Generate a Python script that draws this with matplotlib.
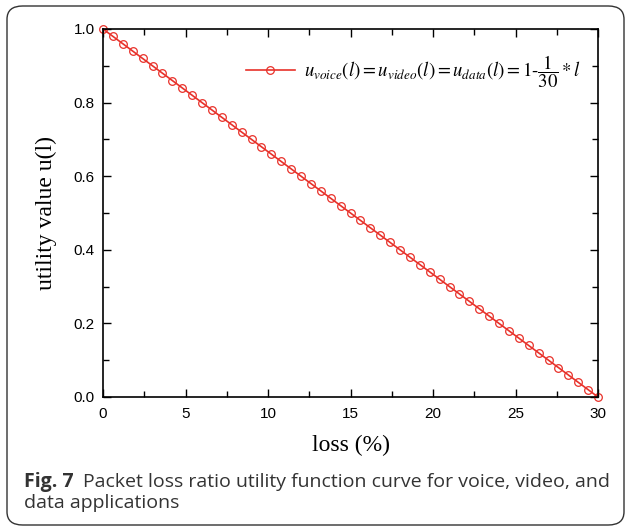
import matplotlib.pyplot as plt
from matplotlib.patches import FancyBboxPatch
from matplotlib.ticker import MultipleLocator

plt.rcParams['mathtext.fontset'] = 'stix'

# packet loss (%) sampled every 0.6
loss = [0.0, 0.6, 1.2, 1.8, 2.4, 3.0, 3.6, 4.2, 4.8, 5.4,
        6.0, 6.6, 7.2, 7.8, 8.4, 9.0, 9.6, 10.2, 10.8, 11.4,
        12.0, 12.6, 13.2, 13.8, 14.4, 15.0, 15.6, 16.2, 16.8, 17.4,
        18.0, 18.6, 19.2, 19.8, 20.4, 21.0, 21.6, 22.2, 22.8, 23.4,
        24.0, 24.6, 25.2, 25.8, 26.4, 27.0, 27.6, 28.2, 28.8, 29.4, 30.0]
utility = [1.00, 0.98, 0.96, 0.94, 0.92, 0.90, 0.88, 0.86, 0.84, 0.82,
           0.80, 0.78, 0.76, 0.74, 0.72, 0.70, 0.68, 0.66, 0.64, 0.62,
           0.60, 0.58, 0.56, 0.54, 0.52, 0.50, 0.48, 0.46, 0.44, 0.42,
           0.40, 0.38, 0.36, 0.34, 0.32, 0.30, 0.28, 0.26, 0.24, 0.22,
           0.20, 0.18, 0.16, 0.14, 0.12, 0.10, 0.08, 0.06, 0.04, 0.02, 0.00]

label = r'$u_{voice}(l)=u_{video}(l)=u_{data}(l)=1\text{-}\dfrac{1}{30}*l$'

W, H = 627, 529
fig = plt.figure(figsize=(W / 100, H / 100), dpi=100)

# rounded frame around the whole figure
frame = FancyBboxPatch((7 / W, 4 / H), 617 / W, 519 / H,
                       boxstyle="round,pad=0,rounding_size=0.025",
                       transform=fig.transFigure, fill=False,
                       edgecolor="#333333", linewidth=1.0)
fig.patches.append(frame)

ax = fig.add_axes([103 / W, 1 - 397 / H, 495 / W, 368 / H])
ax.plot(loss, utility, color="#e8312a", linewidth=1.2, marker="o",
        markersize=5.5, markerfacecolor="none", markeredgecolor="#e8312a",
        markeredgewidth=0.9, label=label, clip_on=False)

ax.set_xlim(0, 30)
ax.set_ylim(0, 1.0)
ax.xaxis.set_major_locator(MultipleLocator(5))
ax.xaxis.set_minor_locator(MultipleLocator(2.5))
ax.yaxis.set_major_locator(MultipleLocator(0.2))
ax.yaxis.set_minor_locator(MultipleLocator(0.1))
ax.yaxis.set_major_formatter(plt.FuncFormatter(lambda v, p: f"{v:.1f}"))
ax.tick_params(which="both", direction="in", top=True, right=True,
               labelsize=11, width=1)
ax.tick_params(which="major", length=6)
ax.tick_params(which="minor", length=4)
ax.tick_params(axis="x", pad=7)
ax.tick_params(axis="y", pad=6)
for t in ax.get_xticklabels() + ax.get_yticklabels():
    t.set_family("Liberation Sans")
for s in ax.spines.values():
    s.set_linewidth(1.2)

ax.set_xlabel("loss (%)", family="Liberation Serif", fontsize=17, labelpad=10)
ax.set_ylabel("utility value u(l)", family="Liberation Serif", fontsize=17, labelpad=12)

ax.legend(loc="center right", frameon=False, fontsize=13.5, handlelength=2.6,
          handletextpad=0.5, borderpad=0, borderaxespad=0,
          bbox_to_anchor=(0.966, 0.885))

cap_kw = dict(family="Open Sans", fontsize=14, color="#333333", va="baseline")
fig.text(24 / W, 1 - 487 / H, "Fig. 7", weight="bold", **cap_kw)
fig.text(83 / W, 1 - 487 / H,
         "Packet loss ratio utility function curve for voice, video, and",
         **cap_kw)
fig.text(24 / W, 1 - 508 / H, "data applications", **cap_kw)

fig.savefig("out.png", dpi=100)
